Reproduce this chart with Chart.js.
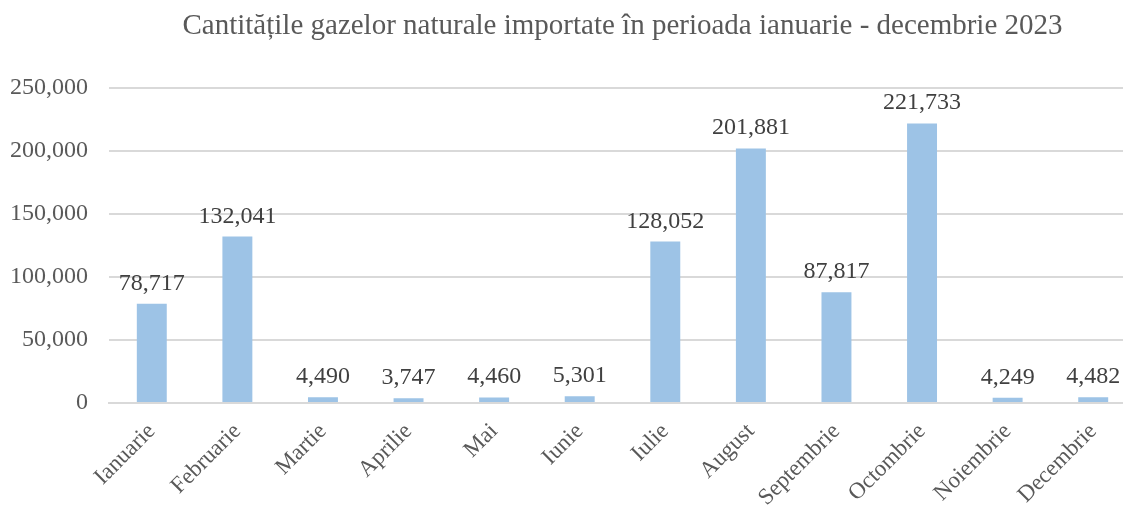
<!DOCTYPE html>
<html>
<head>
<meta charset="utf-8">
<script src="https://cdn.jsdelivr.net/npm/chart.js@4/dist/chart.umd.min.js"></script>
<style>
  html, body { margin: 0; padding: 0; background: #ffffff; overflow: hidden; }
  #clip { width: 1123px; height: 505px; overflow: hidden; position: relative; }
  /* plot runs a bit past the right edge, like the original picture */
  #wrap { width: 1136px; height: 505px; position: relative; }
</style>
</head>
<body>
<div id="clip"><div id="wrap"><canvas id="chart"></canvas></div></div>
<script>
// chart data
var months = ["Ianuarie", "Februarie", "Martie", "Aprilie", "Mai", "Iunie",
              "Iulie", "August", "Septembrie", "Octombrie", "Noiembrie", "Decembrie"];
var importedGas = [78717, 132041, 4490, 3747, 4460, 5301,
                   128052, 201881, 87817, 221733, 4249, 4482];
var chartTitle = "Cantitățile gazelor naturale importate în perioada ianuarie - decembrie 2023";

var fontFamily = "'Liberation Serif', 'Times New Roman', serif";

// draws the value above each bar (no datalabels plugin here)
var valueLabels = {
    id: "valueLabels",
    afterDatasetsDraw: function(chart) {
        let ctx = chart.ctx;
        let meta = chart.getDatasetMeta(0);
        ctx.save();
        ctx.font = "24px " + fontFamily;
        ctx.fillStyle = "#404040";
        ctx.textAlign = "center";
        ctx.textBaseline = "alphabetic";
        meta.data.forEach((bar, i) => {
            ctx.fillText(importedGas[i].toLocaleString("en-US"), bar.x, bar.y - 14);
        });
        ctx.restore();
    }
};

let config = {
    type: "bar",
    data: {
        labels: months,
        datasets: [{
            label: "Gaze importate",
            data: importedGas,
            backgroundColor: "#9dc3e6",
            borderWidth: 0,
            barPercentage: 0.35,
            categoryPercentage: 1.0
        }]
    },
    options: {
        responsive: true,
        maintainAspectRatio: false,
        animation: false,
        layout: {
            padding: { left: 10, right: 0, top: 0, bottom: 0 }
        },
        plugins: {
            legend: { display: false },
            tooltip: { enabled: false },
            title: {
                display: true,
                fullSize: false,
                text: chartTitle,
                color: "#595959",
                font: { family: fontFamily, size: 29, weight: "normal" },
                padding: { top: 9, bottom: 44 }
            }
        },
        scales: {
            x: {
                grid: { display: false },
                border: { color: "#d9d9d9", width: 2 },
                ticks: {
                    color: "#595959",
                    font: { family: fontFamily, size: 23 },
                    minRotation: 45,
                    maxRotation: 45,
                    padding: 7
                },
                // rotated labels overhang into the y-axis space, like excel does
                afterFit: function(scale) {
                    scale.paddingLeft = 0;
                    scale.height = 102;
                }
            },
            y: {
                min: 0,
                max: 250000,
                grid: { color: "#d9d9d9", lineWidth: 2, drawTicks: false },
                border: { display: false },
                ticks: {
                    stepSize: 50000,
                    color: "#595959",
                    font: { family: fontFamily, size: 24 },
                    padding: 21,
                    callback: function(value) {
                        return value.toLocaleString("en-US");
                    }
                },
                // chart.js counts the tick padding twice for the width
                afterFit: function(scale) {
                    scale.width -= scale.options.ticks.padding;
                }
            }
        }
    },
    plugins: [valueLabels]
};

const chart = new Chart(document.getElementById("chart"), config);
</script>
</body>
</html>
